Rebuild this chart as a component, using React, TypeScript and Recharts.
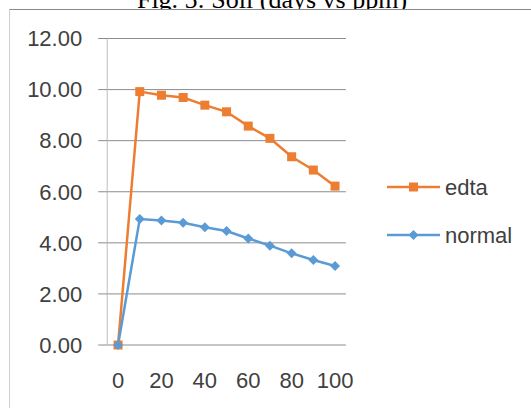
import React from 'react';
import { LineChart, Line, XAxis, YAxis, CartesianGrid } from 'recharts';

// Soil readings (ppm) sampled every 10 days
const days = [0, 10, 20, 30, 40, 50, 60, 70, 80, 90, 100];
const edtaPpm = [0, 9.92, 9.78, 9.69, 9.39, 9.13, 8.57, 8.09, 7.37, 6.85, 6.22];
const normalPpm = [0, 4.93, 4.87, 4.79, 4.61, 4.46, 4.17, 3.89, 3.59, 3.33, 3.09];

const yTicks = [0, 2, 4, 6, 8, 10, 12];
const xLabelTicks = [0, 20, 40, 60, 80, 100];
// tick marks sit between categories
const xTickMarks = [-5, 5, 15, 25, 35, 45, 55, 65, 75, 85, 95, 105];

const EDTA_COLOR = '#ED7D31';
const NORMAL_COLOR = '#5B9BD5';
const GRID = '#8c8c8c';
const TICK = '#bdbdbd';
const TEXT = '#404040';
const FONT = '"Liberation Sans", Arial, sans-serif';

const data = days.map((d, i) => ({ day: d, edta: edtaPpm[i], normal: normalPpm[i] }));

const SquareDot = (props: any) => {
  const { cx, cy, index } = props;
  if (cx == null || cy == null) return null;
  return <rect key={`sq-${index}`} x={cx - 4.5} y={cy - 4.5} width={9} height={9} fill={EDTA_COLOR} />;
};

const DiamondDot = (props: any) => {
  const { cx, cy, index } = props;
  if (cx == null || cy == null) return null;
  const r = 5;
  return (
    <polygon
      key={`dm-${index}`}
      points={`${cx},${cy - r} ${cx + r},${cy} ${cx},${cy + r} ${cx - r},${cy}`}
      fill={NORMAL_COLOR}
    />
  );
};

const legendItems = [
  { name: 'edta', color: EDTA_COLOR, shape: 'square' },
  { name: 'normal', color: NORMAL_COLOR, shape: 'diamond' },
];

const ChartLegend = () => (
  <svg width={146} height={90} style={{ position: 'absolute', left: 385, top: 165 }}>
    {legendItems.map((it, i) => {
      const cy = 22 + i * 48;
      return (
        <g key={it.name}>
          <line x1={2} x2={55} y1={cy} y2={cy} stroke={it.color} strokeWidth={2.5} />
          {it.shape === 'square' ? (
            <rect x={24} y={cy - 4.5} width={9} height={9} fill={it.color} />
          ) : (
            <polygon points={`28.5,${cy - 5} 33.5,${cy} 28.5,${cy + 5} 23.5,${cy}`} fill={it.color} />
          )}
          <text x={60} y={cy} dy="0.35em" fontSize={22} fontFamily={FONT} fill={TEXT}>
            {it.name}
          </text>
        </g>
      );
    })}
  </svg>
);

export default function App() {
  return (
    <div style={{ position: 'fixed', left: 0, top: 0, width: 531, height: 408, background: '#fff', overflow: 'hidden' }}>
      <svg width={531} height={30} style={{ position: 'absolute', left: 0, top: 0 }}>
        <text x={272} y={8} textAnchor="middle" fontSize={26} fontFamily='"Liberation Serif", "Times New Roman", serif' fill="#000">
          Fig. 5: Soil (days vs ppm)
        </text>
      </svg>
      <div
        style={{
          position: 'absolute',
          left: 9,
          top: 9,
          width: 560,
          height: 440,
          background: '#fff',
          borderTop: '1px solid #8a8a8a',
          borderLeft: '1px solid #d0d0d0',
        }}
      />
      <div style={{ position: 'absolute', left: 0, top: 0 }}>
        <LineChart
          width={531}
          height={408}
          data={data}
          margin={{ top: 38.5, right: 185.1, bottom: 13, left: 0 }}
          style={{ fontFamily: FONT }}
        >
          <CartesianGrid vertical={false} stroke={GRID} strokeWidth={1} />
          <XAxis
            xAxisId="marks"
            dataKey="day"
            type="number"
            domain={[-5, 105]}
            ticks={xTickMarks}
            tick={false}
            tickSize={7}
            height={0}
            axisLine={{ stroke: GRID }}
            tickLine={{ stroke: TICK }}
          />
          <XAxis
            xAxisId="labels"
            dataKey="day"
            type="number"
            domain={[-5, 105]}
            ticks={xLabelTicks}
            axisLine={false}
            tickLine={false}
            tickSize={6}
            tickMargin={21}
            height={50}
            interval={0}
            tick={{ fill: TEXT, fontSize: 22, fontFamily: FONT }}
          />
          <YAxis
            domain={[0, 12]}
            ticks={yTicks}
            width={107.2}
            interval={0}
            tickFormatter={(v: number) => v.toFixed(2)}
            axisLine={{ stroke: TICK }}
            tickLine={{ stroke: GRID }}
            tickSize={9}
            tickMargin={16}
            tick={{ fill: TEXT, fontSize: 22, fontFamily: FONT }}
          />
          <Line
            xAxisId="labels"
            dataKey="edta"
            stroke={EDTA_COLOR}
            strokeWidth={2.5}
            dot={SquareDot}
            activeDot={false}
            isAnimationActive={false}
          />
          <Line
            xAxisId="labels"
            dataKey="normal"
            stroke={NORMAL_COLOR}
            strokeWidth={2.5}
            dot={DiamondDot}
            activeDot={false}
            isAnimationActive={false}
          />
        </LineChart>
      </div>
      <ChartLegend />
    </div>
  );
}
